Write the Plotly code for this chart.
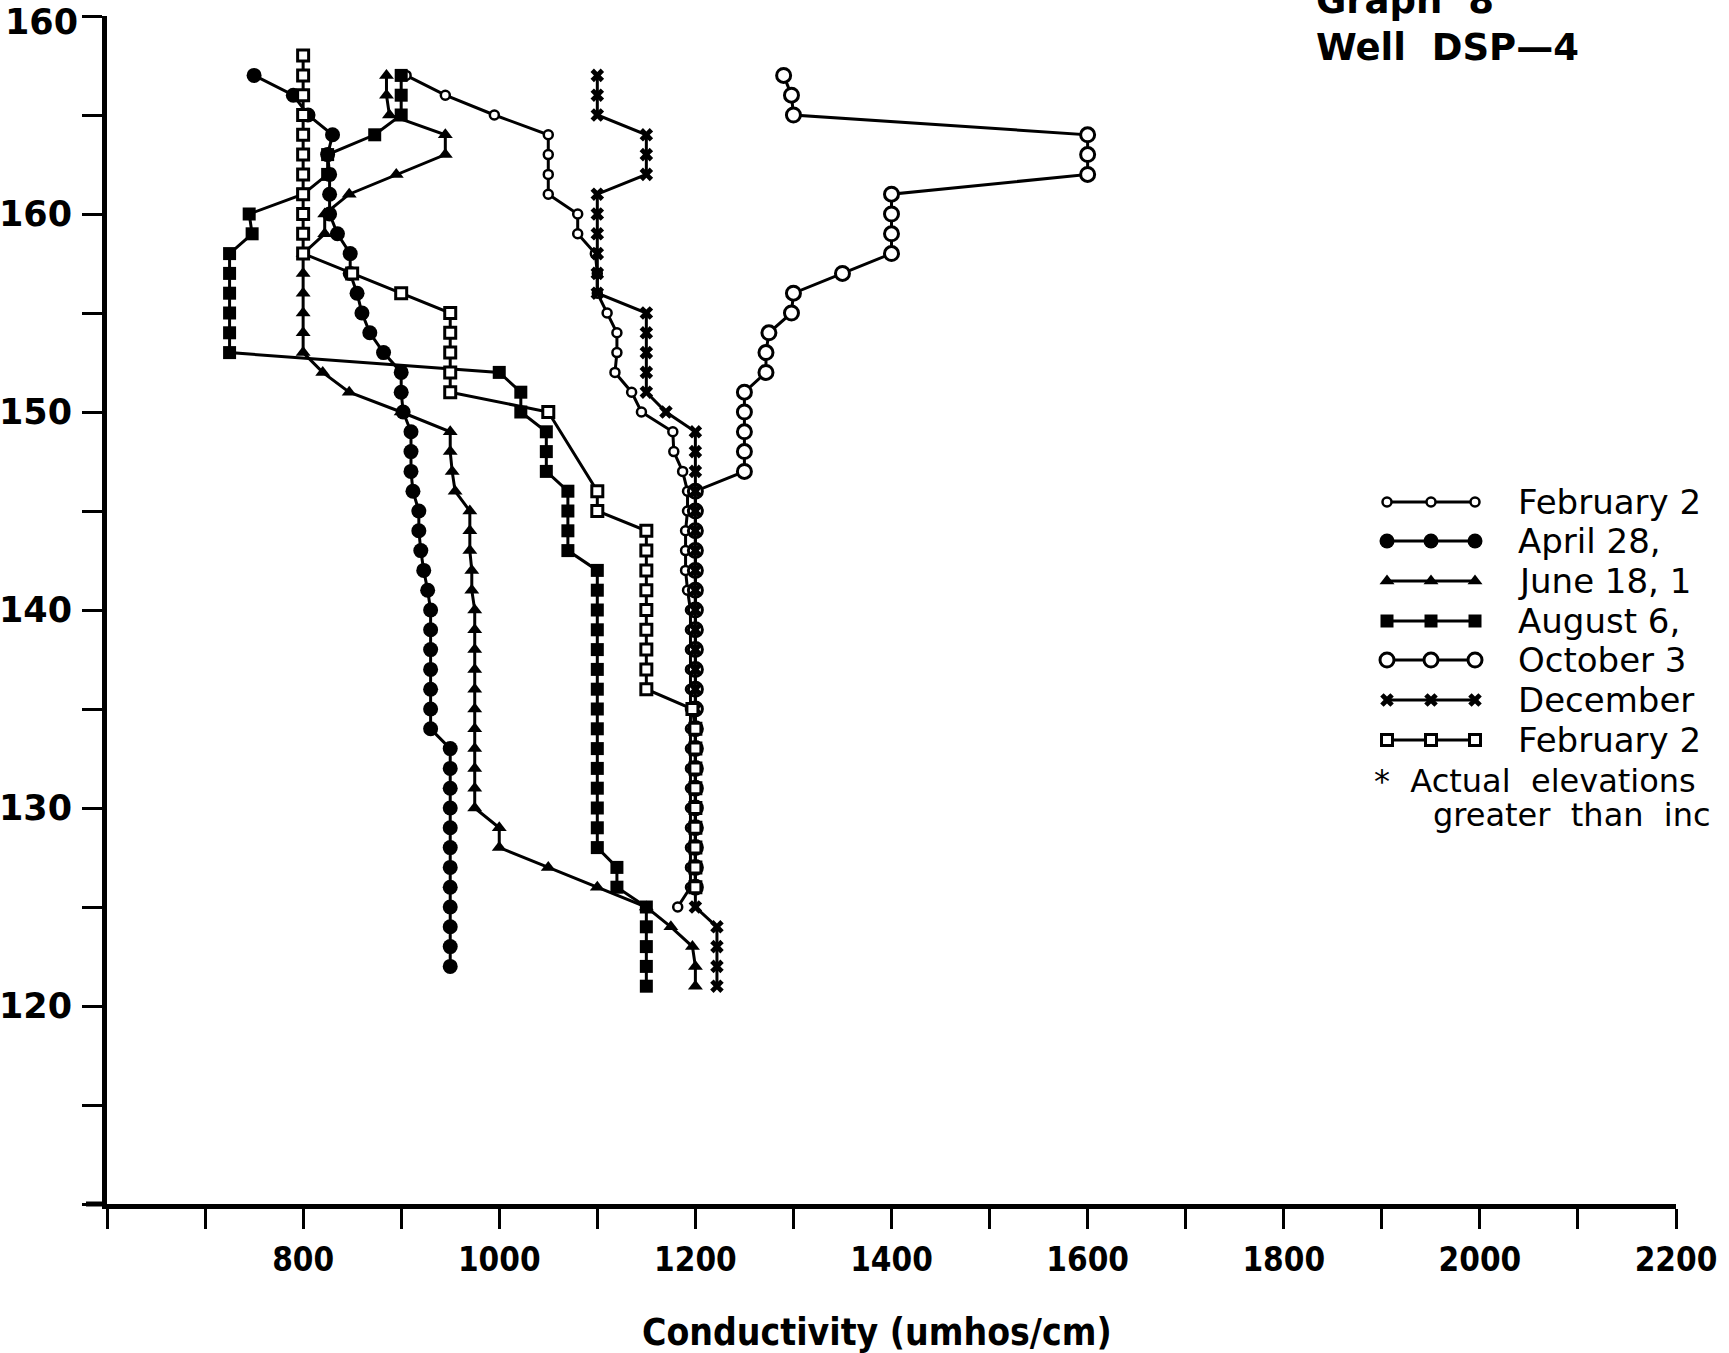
import plotly.graph_objects as go

# ---------------- data (elevation, conductivity umhos/cm) ----------------
elev_feb1 = list(range(167, 124, -1))
cond_feb1 = [905, 945, 995, 1050, 1050, 1050, 1050, 1080, 1080, 1098,
             1100, 1100, 1110, 1120, 1120, 1118, 1135, 1145, 1177, 1178,
             1187, 1192, 1192, 1190, 1190, 1190, 1192, 1195, 1195, 1195,
             1195, 1195, 1195, 1195, 1195, 1195, 1195, 1195, 1195, 1195,
             1195, 1195, 1182]

elev_apr = list(range(167, 121, -1))
cond_apr = [750, 790, 805, 830, 825, 827, 827, 827, 835, 848,
            848, 855, 860, 868, 882, 900, 900, 902, 910, 910,
            910, 912, 918, 918, 920, 923, 927, 930, 930, 930,
            930, 930, 930, 930, 950, 950, 950, 950, 950, 950,
            950, 950, 950, 950, 950, 950]

elev_jun = list(range(167, 120, -1))
cond_jun = [885, 885, 888, 945, 945, 895, 847, 822, 822, 800,
            800, 800, 800, 800, 800, 820, 847, 900, 950, 950,
            952, 955, 970, 970, 970, 972, 972, 975, 975, 975,
            975, 975, 975, 975, 975, 975, 975, 975, 1000, 1000,
            1050, 1100, 1150, 1175, 1197, 1200, 1200]

elev_aug = list(range(167, 120, -1))
cond_aug = [900, 900, 900, 873, 825, 825, 800, 745, 748, 725,
            725, 725, 725, 725, 725, 1000, 1022, 1022, 1048, 1048,
            1048, 1070, 1070, 1070, 1070, 1100, 1100, 1100, 1100, 1100,
            1100, 1100, 1100, 1100, 1100, 1100, 1100, 1100, 1100, 1100,
            1120, 1120, 1150, 1150, 1150, 1150, 1150]

elev_oct = list(range(167, 125, -1))
cond_oct = [1290, 1298, 1300, 1600, 1600, 1600, 1400, 1400, 1400, 1400,
            1350, 1300, 1298, 1275, 1272, 1272, 1250, 1250, 1250, 1250,
            1250, 1200, 1200, 1200, 1200, 1200, 1200, 1200, 1200, 1200,
            1200, 1200, 1200, 1200, 1200, 1200, 1200, 1200, 1200, 1200,
            1200, 1200]

elev_dec = list(range(167, 120, -1))
cond_dec = [1100, 1100, 1100, 1150, 1150, 1150, 1100, 1100, 1100, 1100,
            1100, 1100, 1150, 1150, 1150, 1150, 1150, 1170, 1200, 1200,
            1200, 1200, 1200, 1200, 1200, 1200, 1200, 1200, 1200, 1200,
            1200, 1200, 1200, 1200, 1200, 1200, 1200, 1200, 1200, 1200,
            1200, 1200, 1200, 1222, 1222, 1222, 1222]

elev_feb2 = list(range(168, 149, -1)) + list(range(146, 125, -1))
cond_feb2 = [800, 800, 800, 800, 800, 800, 800, 800, 800, 800,
             800, 850, 900, 950, 950, 950, 950, 950, 1050,
             1100, 1100, 1150, 1150, 1150, 1150, 1150, 1150, 1150, 1150,
             1150, 1197, 1200, 1200, 1200, 1200, 1200, 1200, 1200, 1200,
             1200]

legend_labels = ["February 2", "April 28,", "June 18, 1", "August 6,",
                 "October 3", "December", "February 2"]

x_tickvals = [800, 1000, 1200, 1400, 1600, 1800, 2000, 2200]
y_tickvals = [120, 130, 140, 150, 160, 170]
y_ticktext = ["120", "130", "140", "150", "160", ""]
top_label = "160"   # label printed at the top (170) tick in the original

# ---------------- styles ----------------
series = [
    (elev_feb1, cond_feb1, dict(symbol="circle", size=9, color="white", line=dict(color="black", width=2.5))),
    (elev_apr, cond_apr, dict(symbol="circle", size=15, color="black")),
    (elev_jun, cond_jun, dict(symbol="triangle-up", size=13, color="black")),
    (elev_aug, cond_aug, dict(symbol="square", size=13, color="black")),
    (elev_oct, cond_oct, dict(symbol="circle", size=14, color="white", line=dict(color="black", width=3))),
    (elev_dec, cond_dec, dict(symbol="x", size=12, color="black")),
    (elev_feb2, cond_feb2, dict(symbol="square", size=11, color="white", line=dict(color="black", width=3))),
]

W, H = 1729, 1353
L, R, T, B = 107, 1676, 16, 1204  # plot area in pixels
COND = "DejaVu Sans Condensed, Liberation Sans Narrow, DejaVu Sans"


def px(x):
    return (x - L) / (R - L)


def py(y):
    return (B - y) / (B - T)


fig = go.Figure()
for elev, cond, mk in series:
    fig.add_trace(go.Scatter(x=cond, y=elev, mode="lines+markers",
                             line=dict(color="black", width=3),
                             marker=mk, showlegend=False, cliponaxis=False))

# legend samples drawn on a pixel-space overlay axis
leg_rows = [502, 541, 581, 621, 660, 700, 740]
for (elev, cond, mk), yrow in zip(series, leg_rows):
    fig.add_trace(go.Scatter(x=[1387, 1431, 1475], y=[yrow] * 3, mode="lines+markers",
                             line=dict(color="black", width=3), marker=mk,
                             xaxis="x2", yaxis="y2", showlegend=False, hoverinfo="skip"))

annotations = []
for lab, yrow in zip(legend_labels, leg_rows):
    annotations.append(dict(x=px(1516), y=py(yrow), xref="paper", yref="paper",
                            text=lab, showarrow=False, xanchor="left", yanchor="middle",
                            font=dict(family="DejaVu Sans", size=34, color="black")))
annotations += [
    dict(x=px(1372), y=py(781), xref="paper", yref="paper", text="*  Actual  elevations",
         showarrow=False, xanchor="left", yanchor="middle",
         font=dict(family="DejaVu Sans", size=32, color="black")),
    dict(x=px(1431), y=py(815), xref="paper", yref="paper", text="greater  than  inc",
         showarrow=False, xanchor="left", yanchor="middle",
         font=dict(family="DejaVu Sans", size=32, color="black")),
    dict(x=px(1314), y=py(48), xref="paper", yref="paper", text="<b>Well  DSP—4</b>",
         showarrow=False, xanchor="left", yanchor="middle",
         font=dict(family="DejaVu Sans", size=37, color="black")),
    dict(x=px(1314), y=py(0), xref="paper", yref="paper", text="<b>Graph  8</b>",
         showarrow=False, xanchor="left", yanchor="middle",
         font=dict(family="DejaVu Sans", size=37, color="black")),
    dict(x=px(877), y=py(1332), xref="paper", yref="paper", text="<b>Conductivity (umhos/cm)</b>",
         showarrow=False, xanchor="center", yanchor="middle",
         font=dict(family=COND, size=37, color="black")),
    dict(x=px(80), y=py(0), xref="paper", yref="paper", text="<b>" + top_label + "</b>",
         showarrow=False, xanchor="right", yanchor="top",
         font=dict(family="DejaVu Sans", size=35, color="black")),
]

fig.update_layout(
    width=W, height=H,
    margin=dict(l=L, r=W - R, t=T, b=H - B, pad=0, autoexpand=False),
    paper_bgcolor="white", plot_bgcolor="white",
    showlegend=False,
    annotations=annotations,
    shapes=[dict(type="line", xref="paper", yref="paper", x0=px(86), x1=0, y0=0, y1=0,
                 line=dict(color="black", width=5))],
    xaxis=dict(range=[600, 2200], showgrid=False, zeroline=False, automargin=False,
               showline=True, linecolor="black", linewidth=5,
               tickvals=x_tickvals, ticks="outside", ticklen=20, tickwidth=3, tickcolor="black",
               ticklabelstandoff=2, ticklabeloverflow="allow",
               tickfont=dict(family=COND, size=33, color="black", weight="bold"),
               minor=dict(dtick=100, tick0=600, ticks="outside", ticklen=20, tickwidth=3, tickcolor="black", showgrid=False)),
    yaxis=dict(range=[110, 170], showgrid=False, zeroline=False, automargin=False,
               showline=True, linecolor="black", linewidth=5,
               tickvals=y_tickvals, ticktext=y_ticktext, ticks="outside", ticklen=20, tickwidth=3,
               tickcolor="black", ticklabelstandoff=3, ticklabeloverflow="allow",
               tickfont=dict(family="DejaVu Sans", size=35, color="black", weight="bold"),
               minor=dict(dtick=5, tick0=110, ticks="outside", ticklen=20, tickwidth=3, tickcolor="black", showgrid=False)),
    xaxis2=dict(range=[L, R], domain=[0, 1], overlaying="x", visible=False, anchor="y2"),
    yaxis2=dict(range=[B, T], domain=[0, 1], overlaying="y", visible=False, anchor="x2"),
)

fig.write_html("out.html")
